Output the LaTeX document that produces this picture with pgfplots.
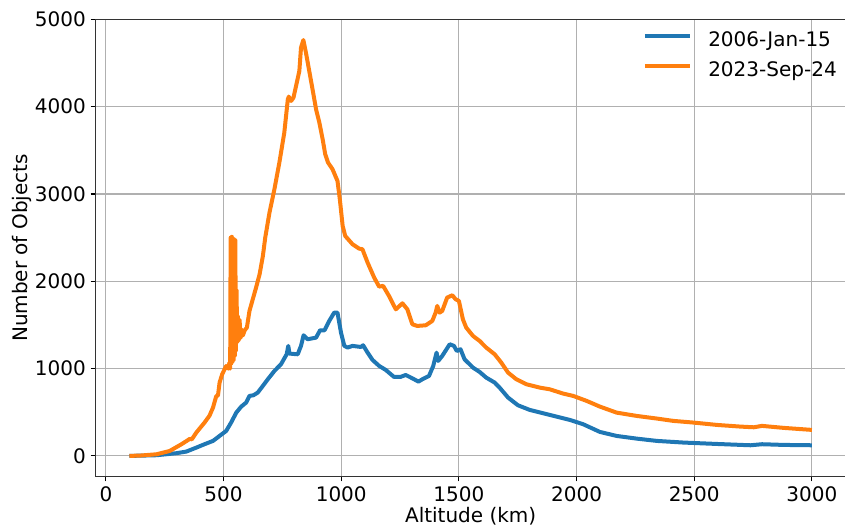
\documentclass[border=0pt]{standalone}
\usepackage{fontspec}
\setmainfont{DejaVu Sans}
\usepackage{pgfplots}
\pgfplotsset{compat=1.18}

\definecolor{tabblue}{HTML}{1F77B4}
\definecolor{taborange}{HTML}{FF7F0E}
\definecolor{gridgray}{HTML}{B0B0B0}

\pgfplotstableread{
x y
100 0
215 8
299 31
342 50
384 95
419 134
455 172
483 229
511 286
532 382
554 496
575 565
596 611
610 687
627 695
645 725
667 802
688 878
716 973
744 1050
768 1164
775 1260
780 1172
815 1164
829 1260
840 1382
857 1336
893 1355
910 1439
929 1439
949 1546
970 1641
984 1641
999 1412
1013 1260
1027 1241
1048 1260
1083 1248
1093 1267
1112 1183
1133 1099
1161 1031
1189 985
1224 905
1252 905
1274 927
1302 889
1328 851
1345 878
1373 916
1391 1031
1405 1183
1412 1088
1429 1145
1461 1279
1479 1260
1491 1202
1507 1221
1524 1107
1560 1011
1588 962
1616 897
1652 840
1673 782
1709 668
1751 580
1801 527
1858 489
1915 450
1972 412
2028 363
2099 275
2170 229
2256 198
2341 172
2455 153
2597 137
2739 122
2788 134
2881 126
3000 122
}\jan

\pgfplotstableread{
x y
100 0
150 5
215 19
271 57
321 134
345 175
356 195
365 190
384 267
419 382
440 460
455 553
469 687
476 690
483 840
494 935
511 1030
520 1000
525 1069
528 1000
530 2500
533 1060
535 2510
538 1080
540 2490
543 1100
545 2480
548 1150
550 2470
552 1200
555 1900
558 1300
561 1600
564 1320
568 1560
572 1350
576 1450
582 1380
590 1440
599 1470
610 1660
624 1794
638 1927
653 2080
667 2290
677 2500
695 2786
716 3054
737 3359
758 3702
773 4084
777 4115
787 4065
797 4103
808 4237
822 4409
829 4676
839 4763
850 4618
864 4409
878 4199
893 3970
907 3817
921 3626
932 3454
944 3359
963 3283
984 3149
994 2939
1006 2634
1017 2519
1048 2424
1076 2374
1090 2367
1112 2214
1140 2042
1161 1939
1178 1947
1203 1832
1217 1756
1232 1679
1260 1748
1281 1679
1302 1508
1323 1489
1359 1496
1387 1546
1401 1641
1408 1718
1418 1641
1429 1660
1450 1813
1472 1840
1486 1794
1500 1775
1517 1565
1531 1470
1560 1374
1588 1317
1616 1241
1652 1164
1680 1069
1709 954
1744 878
1787 821
1844 782
1886 763
1943 714
1986 687
2043 630
2099 565
2170 496
2213 477
2256 458
2341 428
2412 401
2497 382
2597 355
2696 336
2753 328
2788 344
2881 321
3000 298
}\sep

\begin{document}
\begin{tikzpicture}
\begin{axis}[
  name=ax,
  scale only axis,
  width=563pt, height=343pt,
  xmin=-45, xmax=3145,
  ymin=-237.5, ymax=5000,
  xtick={0,500,...,3000},
  ytick={0,1000,...,5000},
  /pgf/number format/1000 sep={},
  /pgf/number format/assume math mode=true,
  font=\fontsize{15}{18}\selectfont,
  tick label style={font=\fontsize{15}{18}\selectfont},
  tick align=outside,
  major tick length=3.6pt,
  tick style={black, line width=0.8pt},
  axis line style={black!80, line width=0.8pt},
  grid=major,
  grid style={gridgray, line width=0.8pt},
  xtick pos=bottom, ytick pos=left,
  xlabel={Altitude (km)},
  ylabel={Number of Objects},
  xlabel style={at={(axis description cs:0.5,-0.086)}, anchor=center},
  ylabel style={at={(axis description cs:-0.098,0.5)}, anchor=center},
  legend style={draw=none, fill=none, at={(1,1)}, anchor=north east,
    xshift=-6.75pt, yshift=-9.5pt, inner sep=0pt, row sep=9pt,
    font=\fontsize{15}{18}\selectfont,
    nodes={inner sep=0pt, text height=10.5pt, text depth=3pt},
    /tikz/column 2/.style={column sep=0pt},
    /tikz/column 1/.style={column sep=12pt}},
  legend cell align=left,
  legend image code/.code={\draw[#1, line width=3pt] (0pt,4pt) -- (34pt,4pt);},
]
\addplot[tabblue, line width=3pt, line join=round] table {\jan};
\addlegendentry{2006-Jan-15}
\addplot[taborange, line width=3pt, line join=round] table {\sep};
\addlegendentry{2023-Sep-24}
\end{axis}
\pgfresetboundingbox
\path ([xshift=-71.5pt,yshift=-38.3pt]ax.south west) rectangle ([xshift=-0.75pt,yshift=14.5pt]ax.north east);
\end{tikzpicture}
\end{document}
